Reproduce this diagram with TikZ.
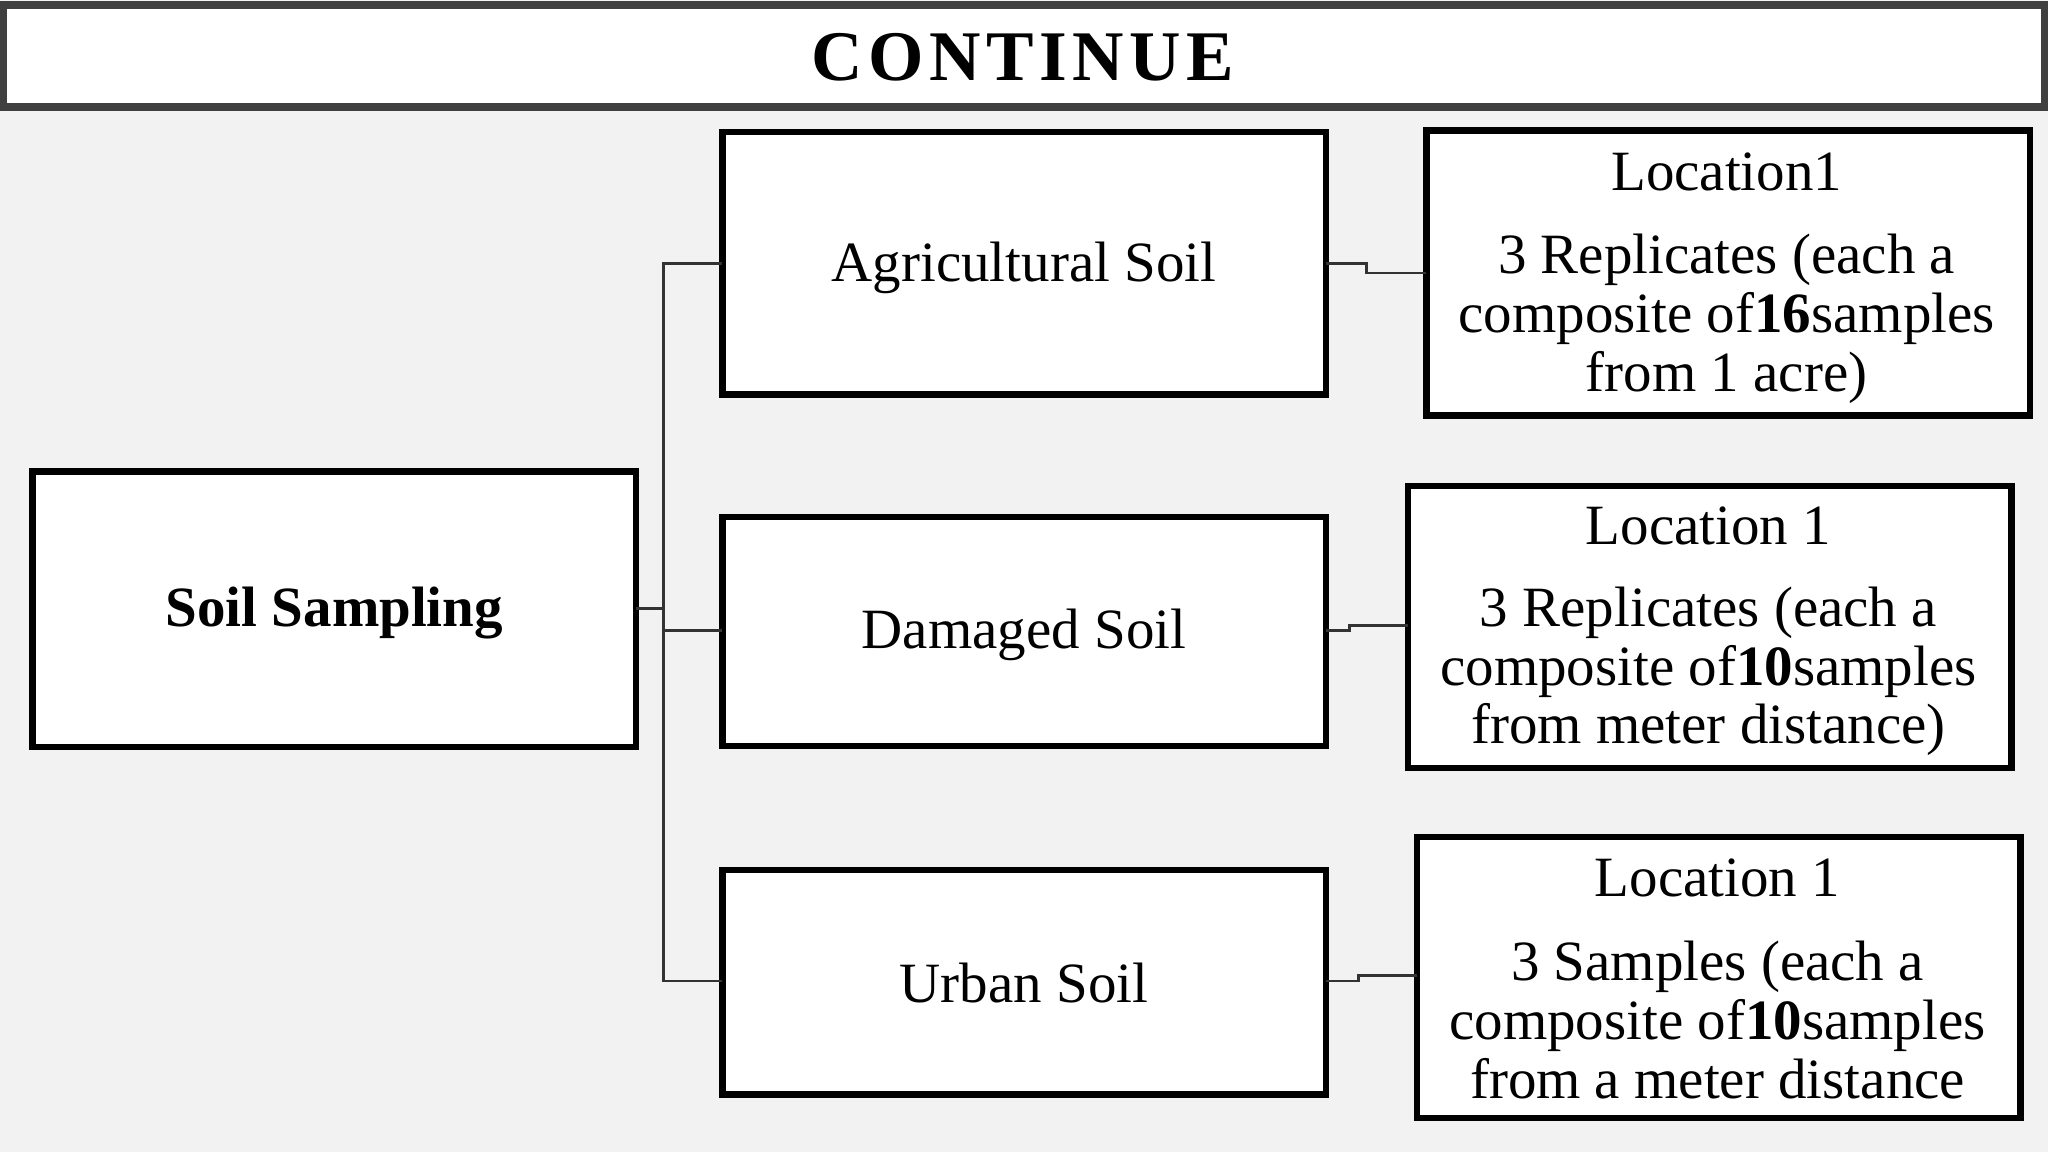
\documentclass[tikz,border=0pt]{standalone}
\usepackage{fontspec}
\setmainfont{Liberation Serif}
\begin{document}
\begin{tikzpicture}[x=0.01cm,y=-0.01cm,
  bx/.style={draw=black,line width=1.4pt,fill=white},
  ln/.style={draw=black!80,line width=0.6pt},
  txt/.style={font=\fontsize{12.4}{12.8}\selectfont,align=center,inner sep=0pt}]
\fill[gray!10] (0,0) rectangle (1568,882);
\useasboundingbox (0,0) rectangle (1568,882);
\draw[draw=black!75,line width=1.7pt,fill=white] (2,4) rectangle (1566,82);
\node[font=\fontsize{15.5}{16}\selectfont\bfseries,inner sep=0pt] (title) at (783,44) {C\kern1.2ptO\kern1.2ptN\kern1.2ptT\kern1.2ptI\kern1.2ptN\kern1.2ptU\kern1.2ptE};
% boxes
\draw[bx] (25,361) rectangle (487,572); \node[txt,font=\fontsize{12.4}{13}\selectfont\bfseries] (ss) at (256,469) {Soil Sampling};
\draw[bx] (553,101) rectangle (1015,302); \node[txt] (ag) at (784,205) {Agricultural Soil};
\draw[bx] (553,396) rectangle (1015,571); \node[txt] (dm) at (784,486) {Damaged Soil};
\draw[bx] (553,666) rectangle (1015,838); \node[txt] (ur) at (784,753) {Urban Soil};
\draw[bx] (1092,100) rectangle (1554,318);
\draw[bx] (1078,372) rectangle (1540,588);
\draw[bx] (1085,641) rectangle (1547,856);
\node[txt] (l1) at (1322,132) {Location1};
\node[txt] (d1) at (1322,244) {3 Replicates (each a\\composite of\textbf{16}samples\\from 1 acre)};
\node[txt] (l2) at (1308,403) {Location 1};
\node[txt] (d2) at (1308,514) {3 Replicates (each a\\composite of\textbf{10}samples\\from meter distance)};
\node[txt] (l3) at (1315,672) {Location 1};
\node[txt] (d3) at (1315,781) {3 Samples (each a\\composite of\textbf{10}samples\\from a meter distance};
% connectors
\coordinate (s0) at (487,466);
\coordinate (a0) at (553,202); \coordinate (b0) at (553,483); \coordinate (c0) at (553,751);
\draw[ln] (s0) -- (508,466);
\draw[ln] (a0) -- (508,202) -- (508,751) -- (c0);
\draw[ln] (508,483) -- (b0);
\coordinate (ae) at (1015,202); \coordinate (at) at (1092,209);
\coordinate (be) at (1015,483); \coordinate (bt) at (1078,479);
\coordinate (ce) at (1015,751); \coordinate (ct) at (1085,747);
\draw[ln] (ae) -- (1046,202) -- (1046,209) -- (at);
\draw[ln] (be) -- (1033,483) -- (1033,479) -- (bt);
\draw[ln] (ce) -- (1040,751) -- (1040,747) -- (ct);
\end{tikzpicture}
\end{document}
